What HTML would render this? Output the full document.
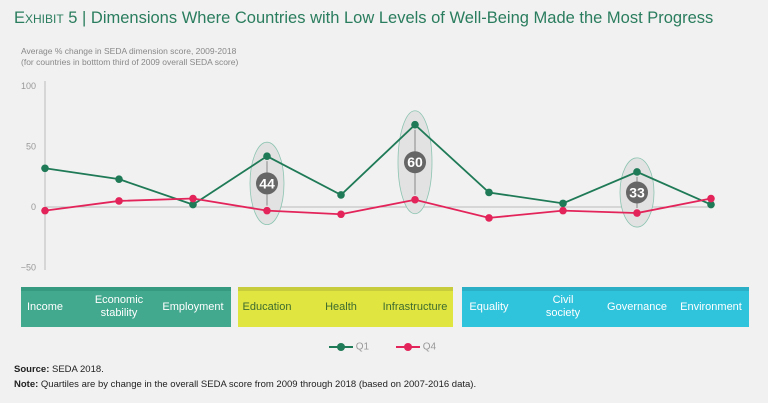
<!DOCTYPE html>
<html><head><meta charset="utf-8"><style>
body{margin:0;background:#f1f1f1;font-family:"Liberation Sans",sans-serif;}
#wrap{position:relative;width:768px;height:403px;overflow:hidden;background:#f1f1f1;}
.t{position:absolute;white-space:nowrap;}
.box{position:absolute;top:287px;height:40px;}
.lbl{position:absolute;top:287px;height:40px;display:flex;align-items:center;justify-content:center;text-align:center;font-size:11px;line-height:13px;color:#fff;}
</style></head><body>
<div id="wrap">
<div class="t" style="left:14px;top:9px;font-size:16.5px;color:#2a7d5e;"><span style="font-variant:small-caps;">Exhibit 5</span> | Dimensions Where Countries with Low Levels of Well-Being Made the Most Progress</div>
<div class="t" style="left:21px;top:46px;font-size:8.5px;line-height:11px;color:#888;">Average % change in SEDA dimension score, 2009-2018<br>(for countries in botttom third of 2009 overall SEDA score)</div>
<svg id="chart" width="768" height="403" style="position:absolute;left:0;top:0"></svg>
<div class="box" style="left:21px;width:210px;background:#42a88e;border-top:4px solid #369a80;box-sizing:border-box;"></div>
<div class="box" style="left:238px;width:215px;background:#e0e540;border-top:4px solid #c7cc3c;box-sizing:border-box;"></div>
<div class="box" style="left:462px;width:287px;background:#2fc3dc;border-top:4px solid #2bafc6;box-sizing:border-box;"></div>
<div id="labels"></div>
<div class="t" style="left:329px;top:341px;font-size:10px;color:#999;"><svg width="24" height="12" style="vertical-align:middle"><line x1="0" y1="6" x2="24" y2="6" stroke="#1f7a57" stroke-width="2"/><circle cx="12" cy="6" r="4" fill="#1f7a57"/></svg> Q1</div>
<div class="t" style="left:396px;top:341px;font-size:10px;color:#999;"><svg width="24" height="12" style="vertical-align:middle"><line x1="0" y1="6" x2="24" y2="6" stroke="#e3245a" stroke-width="2"/><circle cx="12" cy="6" r="4" fill="#e3245a"/></svg> Q4</div>
<div class="t" style="left:14px;top:364px;font-size:9.5px;color:#222;"><b>Source:</b> SEDA 2018.</div>
<div class="t" style="left:14px;top:379px;font-size:9.5px;color:#222;"><b>Note:</b> Quartiles are by change in the overall SEDA score from 2009 through 2018 (based on 2007-2016 data).</div>
</div>
<script>
const categories=["Income","Economic<br>stability","Employment","Education","Health","Infrastructure","Equality","Civil<br>society","Governance","Environment"];
const q1=[32,23,2,42,10,68,12,3,29,2];
const q4=[-3,5,7,-3,-6,6,-9,-3,-5,7];
const yTicks=[100,50,0,-50];
const highlightIdx=[3,5,8];
const highlightVals=["44","60","33"];
const NS="http://www.w3.org/2000/svg";
const svg=document.getElementById('chart');
const x=i=>45+i*74;
const y=v=>207-v*1.21;
function mk(t,a){const e=document.createElementNS(NS,t);for(const k in a)e.setAttribute(k,a[k]);svg.appendChild(e);return e;}
const ax=mk('line',{x1:45,y1:81,x2:45,y2:270,stroke:'#bbb','stroke-width':1});


const zl=mk('line',{x1:45,y1:y(0),x2:712,y2:y(0),stroke:'#bbb','stroke-width':1});


yTicks.forEach(v=>{const t=mk('text',{x:36,y:y(v)+3,'text-anchor':'end','font-size':9,fill:'#999','font-family':'Liberation Sans'});t.textContent=v<0?'\u2212'+(-v):v;

});
highlightIdx.forEach((i,k)=>{const cy=(y(q1[i])+y(q4[i]))/2;const ry=(y(q4[i])-y(q1[i]))/2+14;
const el=mk('ellipse',{cx:x(i),cy:cy,rx:17,ry:ry,fill:'#e2e2e2',stroke:'#8cc4b0','stroke-width':0.8});


mk('line',{x1:x(i),y1:y(q1[i])+5,x2:x(i),y2:y(q4[i])-5,stroke:'#888','stroke-width':1});
const c=mk('circle',{cx:x(i),cy:cy,r:11,fill:'#666'});


const t=mk('text',{x:x(i),y:cy+5,'text-anchor':'middle','font-size':14,'font-weight':'bold',fill:'#fff','font-family':'Liberation Sans'});t.textContent=highlightVals[k];

});
[[q1,'#1f7a57','q1'],[q4,'#e3245a','q4']].forEach(([d,c,n])=>{
const p=mk('polyline',{points:d.map((v,i)=>x(i)+','+y(v)).join(' '),fill:'none',stroke:c,'stroke-width':1.8});


d.forEach((v,i)=>{const pt=mk('circle',{cx:x(i),cy:y(v),r:3.8,fill:c});

});});
const L=document.getElementById('labels');
const lx=[45,119,193,267,341,415,489,563,637,711];
categories.forEach((c,i)=>{const d=document.createElement('div');d.className='lbl';d.innerHTML=c;
d.style.left=(lx[i]-37)+'px';d.style.width='74px';
if(i>=3&&i<=5)d.style.color='#3d6b2f';


L.appendChild(d);});
</script>
</body></html>
